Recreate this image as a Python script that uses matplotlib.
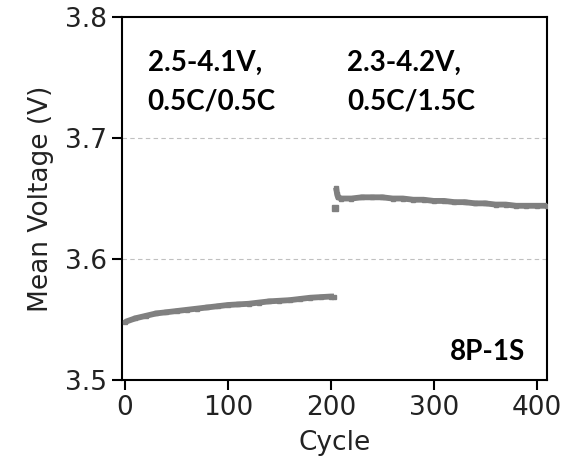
import matplotlib
matplotlib.use("Agg")
import matplotlib.pyplot as plt

# Segment 1: 2.5-4.1V, 0.5C/0.5C
cycles_1 = [0, 10, 20, 30, 40, 50, 60, 70, 80, 90, 100, 110, 120, 130, 140,
            150, 160, 170, 180, 190, 200, 203]
voltage_1 = [3.548, 3.551, 3.553, 3.555, 3.556, 3.557, 3.558, 3.559, 3.560,
             3.561, 3.562, 3.5625, 3.563, 3.564, 3.565, 3.5655, 3.566, 3.567,
             3.568, 3.5685, 3.569, 3.569]

# Segment 2: 2.3-4.2V, 0.5C/1.5C
cycles_2 = [205, 206, 207, 210, 220, 230, 240, 250, 260, 270, 280, 290, 300,
            310, 320, 330, 340, 350, 360, 370, 380, 390, 400, 410]
voltage_2 = [3.659, 3.654, 3.651, 3.650, 3.650, 3.651, 3.651, 3.651, 3.650,
             3.650, 3.649, 3.649, 3.648, 3.648, 3.647, 3.647, 3.646, 3.646,
             3.645, 3.645, 3.644, 3.644, 3.644, 3.644]

# Lone low point at the start of segment 2
cycles_out = [204]
voltage_out = [3.642]

x_ticks = [0, 100, 200, 300, 400]
y_ticks = [3.5, 3.6, 3.7, 3.8]

fig = plt.figure(figsize=(5.61, 4.73), dpi=100)
ax = fig.add_axes([0.2175, 0.1966, 0.7575, 0.7674])

gray = "#808080"
for xs, ys in [(cycles_1, voltage_1), (cycles_2, voltage_2)]:
    ax.plot(xs, ys, color=gray, lw=4.2, solid_capstyle="butt", zorder=3)
    ax.plot(xs, ys, ls="none", marker="s", ms=3.5, color=gray, zorder=3)
ax.plot(cycles_out, voltage_out, ls="none", marker="s", ms=4.5, color=gray, zorder=3)

ax.set_xlim(-3, 410)
ax.set_ylim(3.5, 3.8)
ax.set_xticks(x_ticks)
ax.set_yticks(y_ticks)
ax.set_yticklabels([f"{v:.1f}" for v in y_ticks])

for y in [3.6, 3.7]:
    ax.axhline(y, color="#c0c0c0", lw=0.8, ls=(0, (4, 3)), zorder=1)

for s in ax.spines.values():
    s.set_linewidth(1.5)
    s.set_color("black")
ax.tick_params(axis="both", direction="out", length=7, width=1.5,
               labelsize=19, colors="black", labelcolor="#222222", pad=4)

ax.set_xlabel("Cycle", fontsize=19, color="#222222", labelpad=6)
ax.set_ylabel("Mean Voltage (V)", fontsize=19, color="#222222", labelpad=8)

tfont = dict(family=["Lato", "DejaVu Sans"], fontweight="bold", fontsize=20,
             color="black", va="top", ha="left", linespacing=1.6)
ax.text(22, 3.773, "2.5-4.1V,\n0.5C/0.5C", **tfont)
ax.text(216, 3.773, "2.3-4.2V,\n0.5C/1.5C", **tfont)
ax.text(316, 3.523, "8P-1S", family=["Lato", "DejaVu Sans"], fontweight="bold",
        fontsize=20, color="black", va="center", ha="left")

fig.savefig("out.png", dpi=100)
